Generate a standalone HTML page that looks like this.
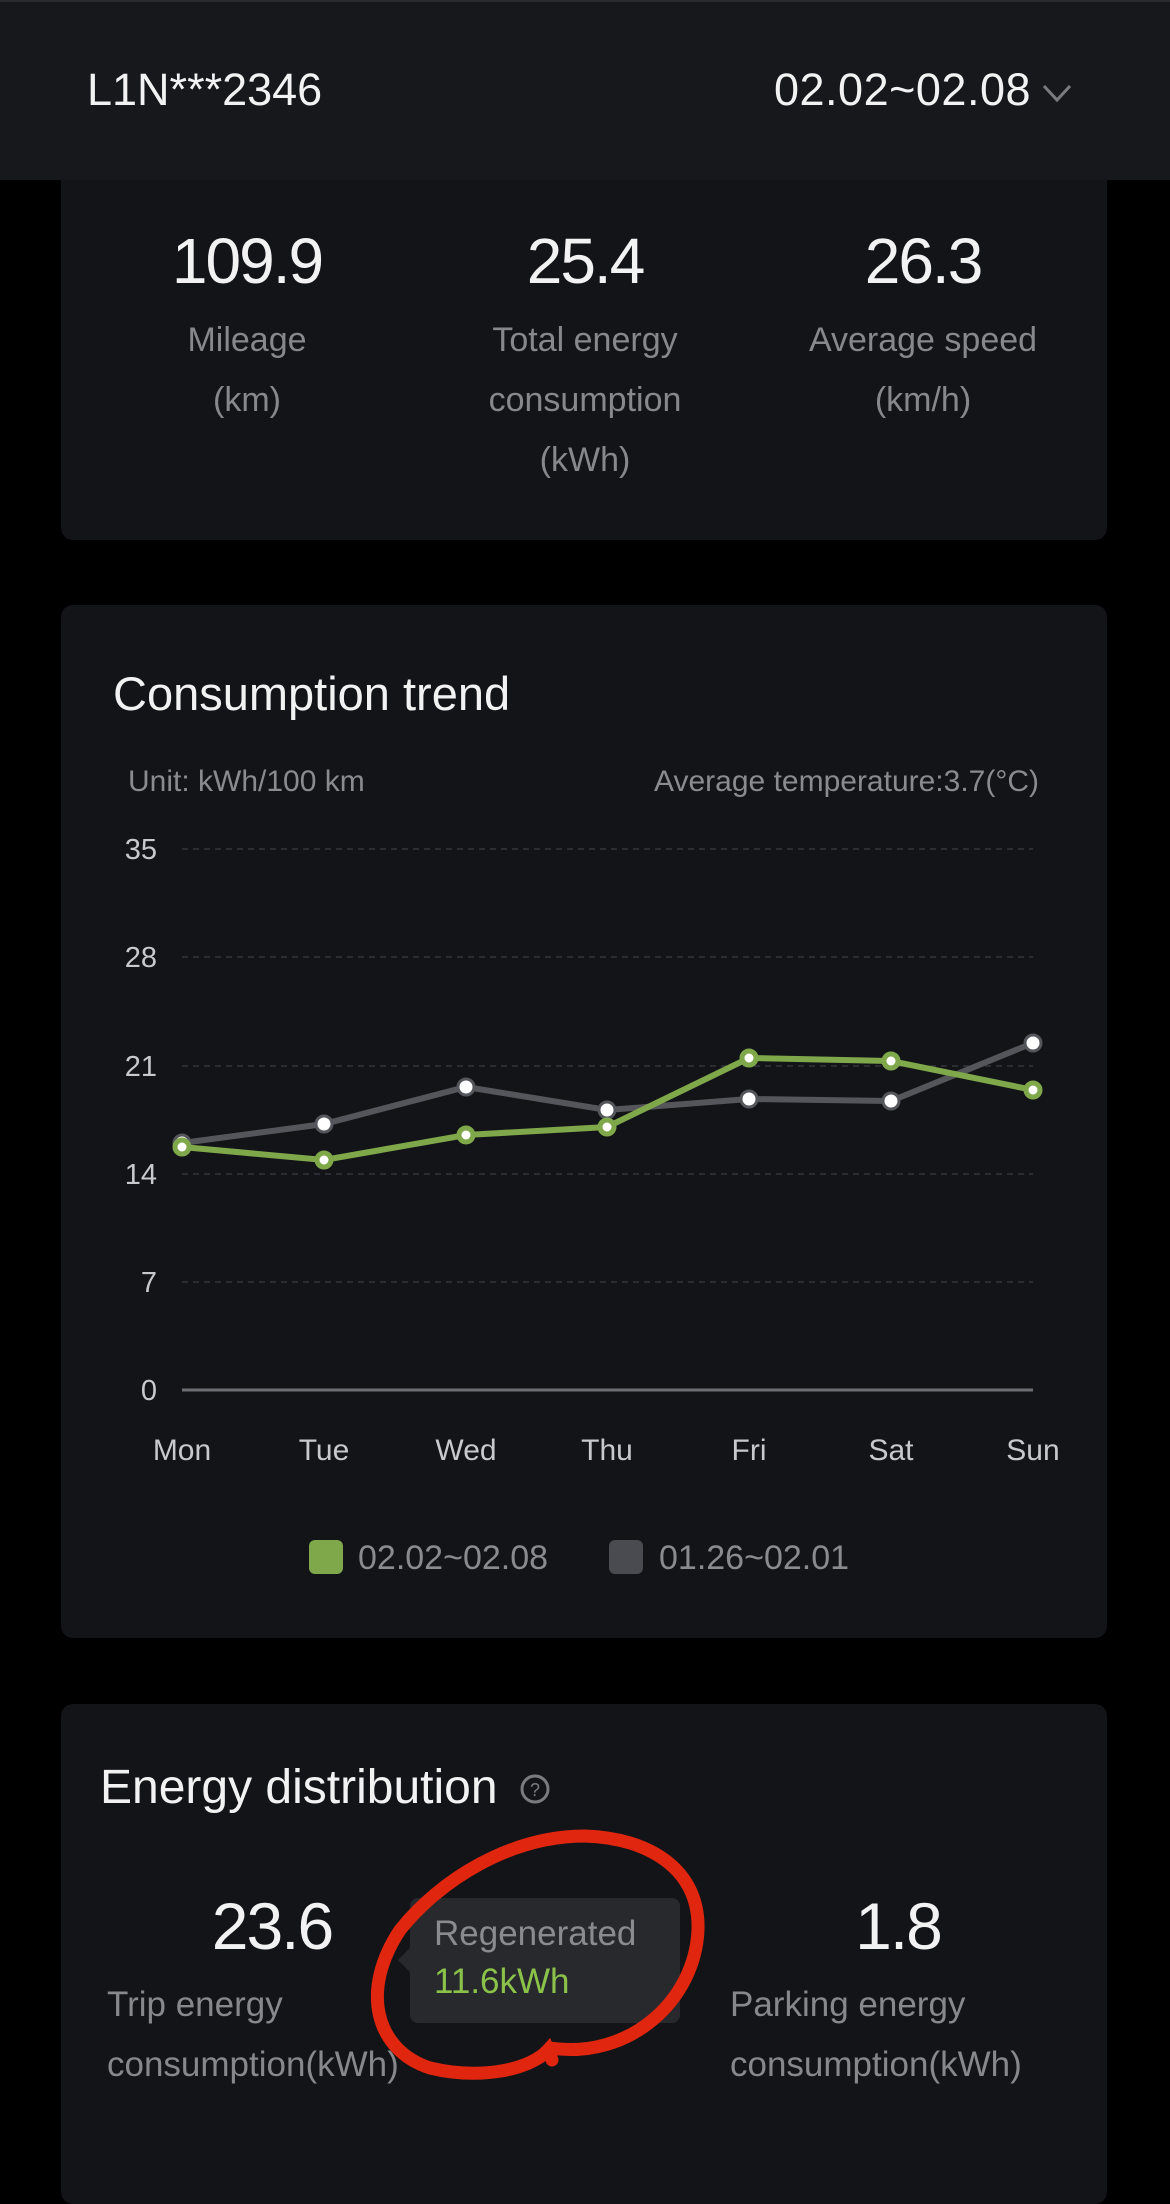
<!DOCTYPE html>
<html><head><meta charset="utf-8"><style>
body{margin:0;width:1170px;height:2140px;background:#000;font-family:"Liberation Sans",sans-serif;position:relative;overflow:hidden}
.a{position:absolute}
.card{position:absolute;left:61px;width:1046px;background:#131418;border-radius:12px}
.num{position:absolute;color:#f2f2f2;font-size:62px;transform:translateX(-50%);letter-spacing:-2px;white-space:nowrap}
.lbl{position:absolute;color:#87888c;font-size:34px;line-height:60px;text-align:center;transform:translateX(-50%);white-space:nowrap}
</style></head><body>
<div class="card" style="top:150px;height:390px"></div>
<div class="a" style="left:0;top:0;width:1170px;height:180px;background:#17181c;border-top:2px solid #2a2b30;box-sizing:border-box"></div>
<div class="a" style="left:87px;top:64px;color:#f2f2f2;font-size:45px">L1N***2346</div>
<div class="a" style="left:774px;top:64px;color:#f2f2f2;font-size:45px;letter-spacing:0.5px">02.02~02.08</div>
<svg class="a" style="left:1040px;top:80px" width="36" height="26"><polyline points="4,6 17,20 30,6" fill="none" stroke="#7a7b80" stroke-width="3"/></svg>

<div class="num" style="left:247px;top:224px;font-size:64px">109.9</div>
<div class="num" style="left:585px;top:224px;font-size:64px">25.4</div>
<div class="num" style="left:923px;top:224px;font-size:64px">26.3</div>
<div class="lbl" style="left:247px;top:310px">Mileage<br>(km)</div>
<div class="lbl" style="left:585px;top:310px">Total energy<br>consumption<br>(kWh)</div>
<div class="lbl" style="left:923px;top:310px">Average speed<br>(km/h)</div>

<div class="card" style="top:605px;height:1033px"></div>
<div class="a" style="left:113px;top:666px;color:#f2f2f2;font-size:47px">Consumption trend</div>
<div class="a" style="left:128px;top:765px;color:#8a8b8f;font-size:30px">Unit: kWh/100 km</div>
<div class="a" style="right:131px;top:765px;color:#8a8b8f;font-size:30px">Average temperature:3.7(°C)</div>

<svg class="a" style="left:0;top:0" width="1170" height="1640">
<g stroke="#34353a" stroke-width="1.5" stroke-dasharray="6,5">
<line x1="182" y1="849" x2="1033" y2="849"/><line x1="182" y1="957" x2="1033" y2="957"/>
<line x1="182" y1="1066" x2="1033" y2="1066"/><line x1="182" y1="1174" x2="1033" y2="1174"/>
<line x1="182" y1="1282" x2="1033" y2="1282"/></g>
<line x1="182" y1="1390" x2="1033" y2="1390" stroke="#6d6e73" stroke-width="3"/>
<g fill="#c8c9cc" font-size="29" text-anchor="end" font-family="Liberation Sans">
<text x="157" y="859">35</text><text x="157" y="967">28</text><text x="157" y="1076">21</text>
<text x="157" y="1184">14</text><text x="157" y="1292">7</text><text x="157" y="1400">0</text></g>
<g fill="#c8c9cc" font-size="30" text-anchor="middle" font-family="Liberation Sans">
<text x="182" y="1460">Mon</text><text x="324" y="1460">Tue</text><text x="466" y="1460">Wed</text><text x="607" y="1460">Thu</text><text x="749" y="1460">Fri</text><text x="891" y="1460">Sat</text><text x="1033" y="1460">Sun</text></g>
<polyline fill="none" stroke="#55565b" stroke-width="6" points="182,1143 324,1124 466,1087 607,1110 749,1099 891,1101 1033,1043"/>
<polyline fill="none" stroke="#7fa84a" stroke-width="6" points="182,1147 324,1160 466,1135 607,1127 749,1058 891,1061 1033,1090"/>
<g fill="#fff" stroke="#55565b" stroke-width="3">
<circle cx="182" cy="1143" r="8"/><circle cx="324" cy="1124" r="8"/><circle cx="466" cy="1087" r="8"/><circle cx="607" cy="1110" r="8"/><circle cx="749" cy="1099" r="8"/><circle cx="891" cy="1101" r="8"/><circle cx="1033" cy="1043" r="8"/></g>
<g fill="#fff" stroke="#7fa84a" stroke-width="5">
<circle cx="182" cy="1147" r="7"/><circle cx="324" cy="1160" r="7"/><circle cx="466" cy="1135" r="7"/><circle cx="607" cy="1127" r="7"/><circle cx="749" cy="1058" r="7"/><circle cx="891" cy="1061" r="7"/><circle cx="1033" cy="1090" r="7"/></g>
<rect x="309" y="1540" width="34" height="34" rx="6" fill="#7fa84a"/>
<rect x="609" y="1540" width="34" height="34" rx="6" fill="#4a4b50"/>
<g fill="#8a8b8f" font-size="34" font-family="Liberation Sans"><text x="358" y="1569">02.02~02.08</text><text x="659" y="1569">01.26~02.01</text></g>
</svg>

<div class="card" style="top:1704px;height:500px"></div>
<div class="a" style="left:100px;top:1760px;color:#f2f2f2;font-size:48px">Energy distribution</div>
<svg class="a" style="left:519px;top:1773px" width="32" height="32"><circle cx="16" cy="16" r="13" fill="none" stroke="#7a7b80" stroke-width="3"/><text x="16" y="23" font-size="18" text-anchor="middle" fill="#7a7b80" font-family="Liberation Sans">?</text></svg>
<div class="num" style="left:272px;top:1888px;font-size:66px">23.6</div>
<div class="num" style="left:898px;top:1888px;font-size:66px">1.8</div>
<div class="a" style="left:107px;top:1975px;color:#87888c;font-size:35px;line-height:60px">Trip energy<br>consumption(kWh)</div>
<div class="a" style="left:730px;top:1975px;color:#87888c;font-size:35px;line-height:60px">Parking energy<br>consumption(kWh)</div>
<div class="a" style="left:410px;top:1898px;width:270px;height:125px;background:#28292d;border-radius:8px"></div>
<div class="a" style="left:398px;top:1948px;width:0;height:0;border-top:12px solid transparent;border-bottom:12px solid transparent;border-right:12px solid #28292d"></div>
<div class="a" style="left:434px;top:1914px;color:#8a8b8f;font-size:35px">Regenerated</div>
<div class="a" style="left:434px;top:1962px;color:#8bc34a;font-size:35px">11.6kWh</div>
<svg class="a" style="left:0;top:0" width="1170" height="2140">
<path d="M550,2048 C630,2060 695,2000 698,1930 C700,1870 650,1838 585,1836 C510,1836 440,1880 400,1930 C360,1990 375,2050 430,2068 C480,2080 530,2070 548,2050 L552,2060" fill="none" stroke="#e0260e" stroke-width="13" stroke-linecap="round"/>
</svg>
</body></html>
